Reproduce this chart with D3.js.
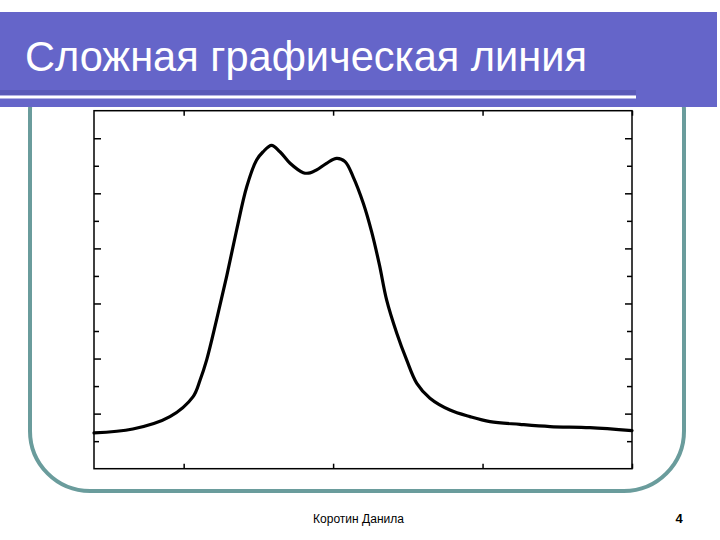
<!DOCTYPE html>
<html>
<head>
<meta charset="utf-8">
<script src="https://cdn.jsdelivr.net/npm/d3@7"></script>
<style>
  body { margin: 0; background: #fff; }
  svg { display: block; font-family: "Liberation Sans", Arial, sans-serif; }
</style>
</head>
<body>
<div id="slide"></div>
<script>
// curve values
var xValues = [200, 330, 454, 531, 555, 577, 610, 644, 677, 711, 744, 765, 794, 822, 856, 900, 923, 945, 978, 1012, 1040, 1067, 1101, 1129, 1155, 1179, 1213, 1246, 1280, 1324, 1391, 1458, 1525, 1625, 1726, 1859, 2000];
var yValues = [0.130, 0.144, 0.189, 0.261, 0.322, 0.395, 0.540, 0.699, 0.866, 1.024, 1.121, 1.150, 1.174, 1.151, 1.109, 1.075, 1.074, 1.085, 1.109, 1.127, 1.115, 1.060, 0.964, 0.860, 0.740, 0.613, 0.492, 0.395, 0.310, 0.256, 0.213, 0.189, 0.171, 0.161, 0.153, 0.149, 0.138];

var xTicks = [500, 1000, 1500, 2000];
var yMajorTicks = [0.2, 0.4, 0.6, 0.8, 1.0, 1.2];
var yMinorTicks = [0.1, 0.3, 0.5, 0.7, 0.9, 1.1];

var title = "Сложная графическая линия";
var author = "Коротин Данила";
var pageNo = "4";

var W = 720, H = 540;
var plot = {left: 94, top: 110.7, right: 632, bottom: 468.7};

var svg = d3.select("#slide")
  .append("svg")
    .attr("width", W)
    .attr("height", H);

// rounded frame of the slide
svg.append("rect")
    .attr("x", 30)
    .attr("y", 50)
    .attr("width", 654)
    .attr("height", 441)
    .attr("rx", 60)
    .attr("ry", 60)
    .attr("fill", "none")
    .attr("stroke", "#6a9c9c")
    .attr("stroke-width", 4);

// header band
svg.append("rect")
    .attr("x", 0)
    .attr("y", 12)
    .attr("width", 717)
    .attr("height", 95)
    .attr("fill", "#6565c9");

svg.append("rect")
    .attr("x", 0)
    .attr("y", 90)
    .attr("width", 636)
    .attr("height", 5)
    .attr("fill", "#5a5ab8");

svg.append("rect")
    .attr("x", 0)
    .attr("y", 95.5)
    .attr("width", 636)
    .attr("height", 3)
    .attr("fill", "#ffffff");

svg.append("text")
    .attr("x", 25)
    .attr("y", 71)
    .attr("fill", "#ffffff")
    .style("font-size", "42px")
    .attr("textLength", 562)
    .attr("lengthAdjust", "spacingAndGlyphs")
    .text(title);

// scales
var x = d3.scaleLinear()
    .domain([200, 2000])
    .range([plot.left, plot.right]);

var y = d3.scaleLinear()
    .domain([0, 1.3])
    .range([plot.bottom, plot.top]);

var g = svg.append("g");

g.append("rect")
    .attr("x", plot.left)
    .attr("y", plot.top)
    .attr("width", plot.right - plot.left)
    .attr("height", plot.bottom - plot.top)
    .attr("fill", "#fff")
    .attr("stroke", "#000")
    .attr("stroke-width", 1.5);

// inward ticks on all four sides, no labels
function addAxis(axis, tx, ty) {
  var a = g.append("g")
      .attr("transform", "translate(" + tx + "," + ty + ")")
      .call(axis);
  a.select(".domain").remove();
  a.selectAll("text").remove();
  a.selectAll("line").attr("stroke", "#000").attr("stroke-width", 1.5);
}

addAxis(d3.axisBottom(x).tickValues(xTicks).tickSize(-5), 0, plot.bottom);
addAxis(d3.axisTop(x).tickValues(xTicks).tickSize(-5), 0, plot.top);
addAxis(d3.axisLeft(y).tickValues(yMajorTicks).tickSize(-7), plot.left, 0);
addAxis(d3.axisLeft(y).tickValues(yMinorTicks).tickSize(-5), plot.left, 0);
addAxis(d3.axisRight(y).tickValues(yMajorTicks).tickSize(-7), plot.right, 0);
addAxis(d3.axisRight(y).tickValues(yMinorTicks).tickSize(-5), plot.right, 0);

// the curve
var pts = xValues.map(function(d, i) { return {x: d, y: yValues[i]}; });

var line = d3.line()
    .x(function(d) { return x(d.x); })
    .y(function(d) { return y(d.y); })
    .curve(d3.curveCatmullRom.alpha(0.5));

g.append("path")
    .datum(pts)
    .attr("fill", "none")
    .attr("stroke", "#000")
    .attr("stroke-width", 3.2)
    .attr("stroke-linejoin", "round")
    .attr("stroke-linecap", "round")
    .attr("d", line);

// footer
svg.append("text")
    .attr("x", 313)
    .attr("y", 522.5)
    .attr("fill", "#000")
    .style("font-size", "12.5px")
    .attr("textLength", 91)
    .attr("lengthAdjust", "spacingAndGlyphs")
    .text(author);

svg.append("text")
    .attr("x", 679)
    .attr("y", 522.5)
    .attr("text-anchor", "middle")
    .attr("fill", "#000")
    .style("font-size", "13px")
    .style("font-weight", "bold")
    .text(pageNo);
</script>
</body>
</html>
